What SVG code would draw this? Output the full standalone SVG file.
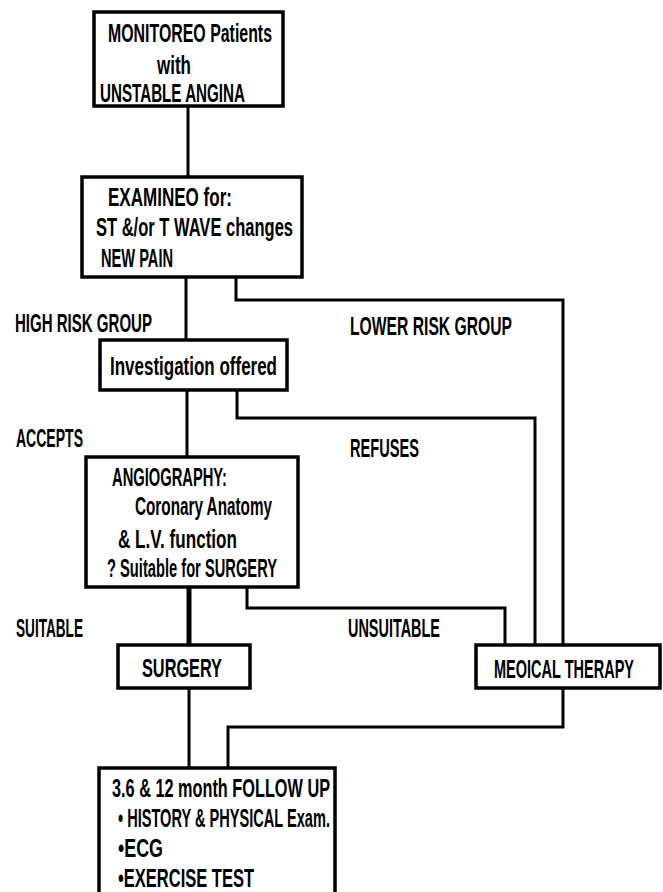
<svg xmlns="http://www.w3.org/2000/svg" width="663" height="892" viewBox="0 0 663 892">
<style>
.box{fill:#fff;stroke:#000;stroke-width:3.5}
.c{fill:none;stroke:#000;stroke-width:3;stroke-linejoin:miter;stroke-linecap:square}
.t{font-family:"Liberation Sans Narrow","Liberation Sans",sans-serif;font-size:26px;font-weight:bold;fill:#000}
</style>
<rect width="663" height="892" fill="#fff"/>
<g id="connectors">
<path class="c" d="M188,106V177"/>
<path class="c" d="M186,277V340"/>
<path class="c" d="M236,277V300H563V645"/>
<path class="c" d="M187,390V457"/>
<path class="c" d="M237,390V418H535V645"/>
<path class="c" d="M189,587V645" style="stroke-width:5"/>
<path class="c" d="M247,587V608H505V645"/>
<path class="c" d="M189,688V768"/>
<path class="c" d="M563,688V727H228V768"/>
</g>
<g id="labels">
<text class="t" x="15" y="332" textLength="137" lengthAdjust="spacingAndGlyphs">HIGH RISK GROUP</text>
<text class="t" x="350" y="335" textLength="162" lengthAdjust="spacingAndGlyphs">LOWER RISK GROUP</text>
<text class="t" x="16" y="447" textLength="67" lengthAdjust="spacingAndGlyphs">ACCEPTS</text>
<text class="t" x="350" y="457" textLength="69" lengthAdjust="spacingAndGlyphs">REFUSES</text>
<text class="t" x="16" y="637" textLength="67" lengthAdjust="spacingAndGlyphs">SUITABLE</text>
<text class="t" x="348" y="637" textLength="92" lengthAdjust="spacingAndGlyphs">UNSUITABLE</text>
</g>
<g id="monitored">
<rect class="box" x="94" y="12" width="189" height="94"/>
<text class="t" x="108" y="42" textLength="164" lengthAdjust="spacingAndGlyphs">MONITOREO Patients</text>
<text class="t" x="157" y="74" textLength="34" lengthAdjust="spacingAndGlyphs">with</text>
<text class="t" x="100" y="102" textLength="145" lengthAdjust="spacingAndGlyphs">UNSTABLE ANGINA</text>
</g>
<g id="examined">
<rect class="box" x="82" y="177" width="220" height="100"/>
<text class="t" x="108" y="206" textLength="124" lengthAdjust="spacingAndGlyphs">EXAMINEO for:</text>
<text class="t" x="96" y="236" textLength="197" lengthAdjust="spacingAndGlyphs">ST &amp;/or T WAVE changes</text>
<text class="t" x="101" y="267" textLength="72" lengthAdjust="spacingAndGlyphs">NEW PAIN</text>
</g>
<g id="investigation">
<rect class="box" x="100" y="340" width="187" height="50"/>
<text class="t" x="110" y="375" textLength="167" lengthAdjust="spacingAndGlyphs">Investigation offered</text>
</g>
<g id="angiography">
<rect class="box" x="86" y="457" width="212" height="130"/>
<text class="t" x="112" y="486" textLength="115" lengthAdjust="spacingAndGlyphs">ANGIOGRAPHY:</text>
<text class="t" x="135" y="515" textLength="137" lengthAdjust="spacingAndGlyphs">Coronary Anatomy</text>
<text class="t" x="118" y="548" textLength="119" lengthAdjust="spacingAndGlyphs">&amp; L.V. function</text>
<text class="t" x="107" y="577" textLength="170" lengthAdjust="spacingAndGlyphs">? Suitable for SURGERY</text>
</g>
<g id="surgery">
<rect class="box" x="118" y="645" width="132" height="43"/>
<text class="t" x="142" y="677" textLength="80" lengthAdjust="spacingAndGlyphs">SURGERY</text>
</g>
<g id="medical">
<rect class="box" x="476" y="645" width="184" height="43"/>
<text class="t" x="494" y="678" textLength="140" lengthAdjust="spacingAndGlyphs">MEOICAL THERAPY</text>
</g>
<g id="followup">
<rect class="box" x="99" y="768" width="236" height="140"/>
<text class="t" x="112" y="797" textLength="218" lengthAdjust="spacingAndGlyphs">3.6 &amp; 12 month FOLLOW UP</text>
<text class="t" x="118" y="827" textLength="212" lengthAdjust="spacingAndGlyphs">• HISTORY &amp; PHYSICAL Exam.</text>
<text class="t" x="118" y="857" textLength="45" lengthAdjust="spacingAndGlyphs">•ECG</text>
<text class="t" x="118" y="887" textLength="136" lengthAdjust="spacingAndGlyphs">•EXERCISE TEST</text>
</g>
</svg>
